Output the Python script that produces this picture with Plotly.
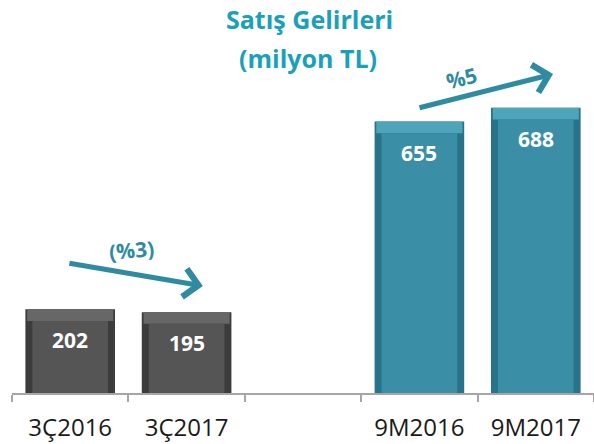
import plotly.graph_objects as go

categories = ["3Ç2016", "3Ç2017", " ", "9M2016", "9M2017"]
values = [202, 195, None, 655, 688]
face_colors = ["#555555", "#555555", "#555555", "#3a8fa6", "#3a8fa6"]
side_colors = ["#3c3c3c", "#3c3c3c", "#3c3c3c", "#28738a", "#28738a"]
top_colors = ["#676767", "#676767", "#676767", "#4ea4bb", "#4ea4bb"]
value_labels = ["202", "195", "", "655", "688"]
title_lines = ["Satış Gelirleri", "(milyon TL)"]
change_labels = ["(%3)", "%5"]

TEAL = "#1aa0b8"
ARROW = "#2f8ba1"
FONT = "Open Sans"
bevel = 28

fig = go.Figure()
fig.add_trace(go.Bar(x=categories, y=values, width=0.77, marker=dict(color=side_colors, line=dict(width=0)),
                     hoverinfo="skip"))
fig.add_trace(go.Bar(x=categories, y=[bevel if v else None for v in values],
                     base=[v - bevel if v else None for v in values], width=0.74,
                     marker=dict(color=top_colors, line=dict(width=0)), hoverinfo="skip"))
fig.add_trace(go.Bar(x=categories, y=[v - bevel if v else None for v in values], width=0.65,
                     marker=dict(color=face_colors, line=dict(width=0)), hoverinfo="skip"))

for c, v, t in zip(categories, values, value_labels):
    if v:
        fig.add_annotation(x=c, y=v, yshift=-31, text=t, showarrow=False,
                           xanchor="center", yanchor="middle",
                           font=dict(family=FONT, size=21, color="white", weight="bold"))

fig.add_annotation(xref="paper", yref="paper", x=0.512, y=1.003, text=title_lines[0], showarrow=False,
                   xanchor="center", yanchor="middle",
                   font=dict(family=FONT, size=25, color=TEAL, weight="bold"))
fig.add_annotation(xref="paper", yref="paper", x=0.508, y=0.898, text=title_lines[1], showarrow=False,
                   xanchor="center", yanchor="middle",
                   font=dict(family=FONT, size=25, color=TEAL, weight="bold"))

fig.add_annotation(xref="paper", yref="paper", x=0.328, y=0.287, ax=-135, ay=-23, text="",
                   showarrow=True, arrowhead=4, arrowsize=1.1, arrowwidth=5, arrowcolor=ARROW)
fig.add_annotation(xref="paper", yref="paper", x=0.9296, y=0.855, ax=-135, ay=34, text="",
                   showarrow=True, arrowhead=4, arrowsize=1.1, arrowwidth=5, arrowcolor=ARROW)
fig.add_annotation(xref="paper", yref="paper", x=0.206, y=0.383, text=change_labels[0], showarrow=False,
                   xanchor="center", yanchor="middle", textangle=-5,
                   font=dict(family=FONT, size=21, color=ARROW, weight="bold"))
fig.add_annotation(xref="paper", yref="paper", x=0.773, y=0.8445, text=change_labels[1], showarrow=False,
                   xanchor="center", yanchor="middle", textangle=-14,
                   font=dict(family=FONT, size=21, color=ARROW, weight="bold"))

fig.update_layout(
    width=594, height=444,
    margin=dict(l=12, r=0, t=20, b=51),
    paper_bgcolor="white", plot_bgcolor="white",
    barmode="overlay", showlegend=False,
    xaxis=dict(type="category", categoryorder="array", categoryarray=categories,
               range=[-0.5, 4.5], showline=True, linecolor="#a6a6a6", linewidth=1.5,
               ticks="outside", tickson="boundaries", ticklen=7, tickcolor="#a6a6a6", tickwidth=1.5,
               tickfont=dict(family=FONT, size=24, color="#1a1a1a"), ticklabelstandoff=12,
               showgrid=False, zeroline=False, automargin=False),
    yaxis=dict(range=[0, 900], visible=False, showgrid=False, zeroline=False),
)

fig.write_html("out.html", config={"displayModeBar": False},
               post_script="document.body.style.margin='0px';document.body.style.padding='0px';")
